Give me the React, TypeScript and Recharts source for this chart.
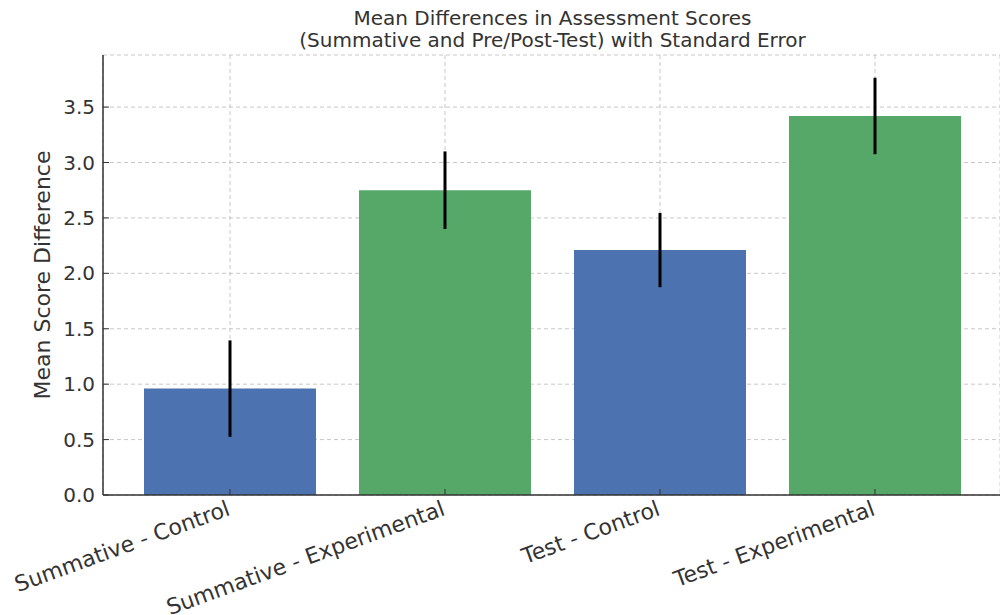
import { BarChart, Bar, Cell, ErrorBar, CartesianGrid, XAxis, YAxis } from "recharts";

const groups = ["Summative - Control", "Summative - Experimental", "Test - Control", "Test - Experimental"];
const meanDiffs = [0.96, 2.75, 2.21, 3.42];
const stdErrors = [0.435, 0.35, 0.335, 0.345];
const barColors = ["#4C72B0", "#55A868", "#4C72B0", "#55A868"];
const yTicks = [0, 0.5, 1, 1.5, 2, 2.5, 3, 3.5];

const data = groups.map((name, i) => ({ name, mean: meanDiffs[i], se: stdErrors[i] }));

const font = "'DejaVu Sans', sans-serif";
const ink = "#333";

function YLabel({ viewBox }: any) {
  const cy = viewBox.y + viewBox.height / 2;
  return (
    <text
      x={50}
      y={cy}
      transform={`rotate(-90, 50, ${cy})`}
      textAnchor="middle"
      fontSize={22}
      fontFamily={font}
      fill={ink}
    >
      Mean Score Difference
    </text>
  );
}

export default function App() {
  return (
    <div style={{ position: "absolute", left: 0, top: 0, width: 1000, height: 615, background: "#fff" }}>
      <div
        style={{
          position: "absolute",
          left: 103,
          width: 899,
          top: 7,
          textAlign: "center",
          fontFamily: font,
          fontSize: 20,
          lineHeight: "22px",
          color: ink,
        }}
      >
        Mean Differences in Assessment Scores
        <br />
        (Summative and Pre/Post-Test) with Standard Error
      </div>
      <BarChart
        width={1000}
        height={615}
        data={data}
        margin={{ top: 55, right: 0, bottom: 0, left: 0 }}
        barCategoryGap="10%"
      >
        <Bar dataKey="mean" isAnimationActive={false}>
          {data.map((d, i) => (
            <Cell key={d.name} fill={barColors[i]} />
          ))}
          <ErrorBar dataKey="se" width={0} strokeWidth={3} stroke="#000" direction="y" />
        </Bar>
        <CartesianGrid stroke="#b0b0b0" strokeOpacity={0.7} strokeDasharray="4 3" />
        <XAxis
          dataKey="name"
          height={120}
          padding={{ left: 19.5, right: 17.5 }}
          interval={0}
          angle={-20}
          textAnchor="end"
          tickSize={-6}
          tickMargin={11}
          axisLine={{ stroke: ink, strokeWidth: 1.5 }}
          tickLine={{ stroke: ink }}
          tick={{ fontSize: 22, fontFamily: font, fill: ink, dx: -4 }}
        />
        <YAxis
          width={103}
          domain={[0, 3.97]}
          ticks={yTicks}
          tickFormatter={(v: number) => v.toFixed(1)}
          tickSize={-6}
          tickMargin={14}
          axisLine={{ stroke: ink, strokeWidth: 1.5 }}
          tickLine={{ stroke: ink }}
          tick={{ fontSize: 20, fontFamily: font, fill: ink }}
          label={<YLabel />}
        />
      </BarChart>
    </div>
  );
}
